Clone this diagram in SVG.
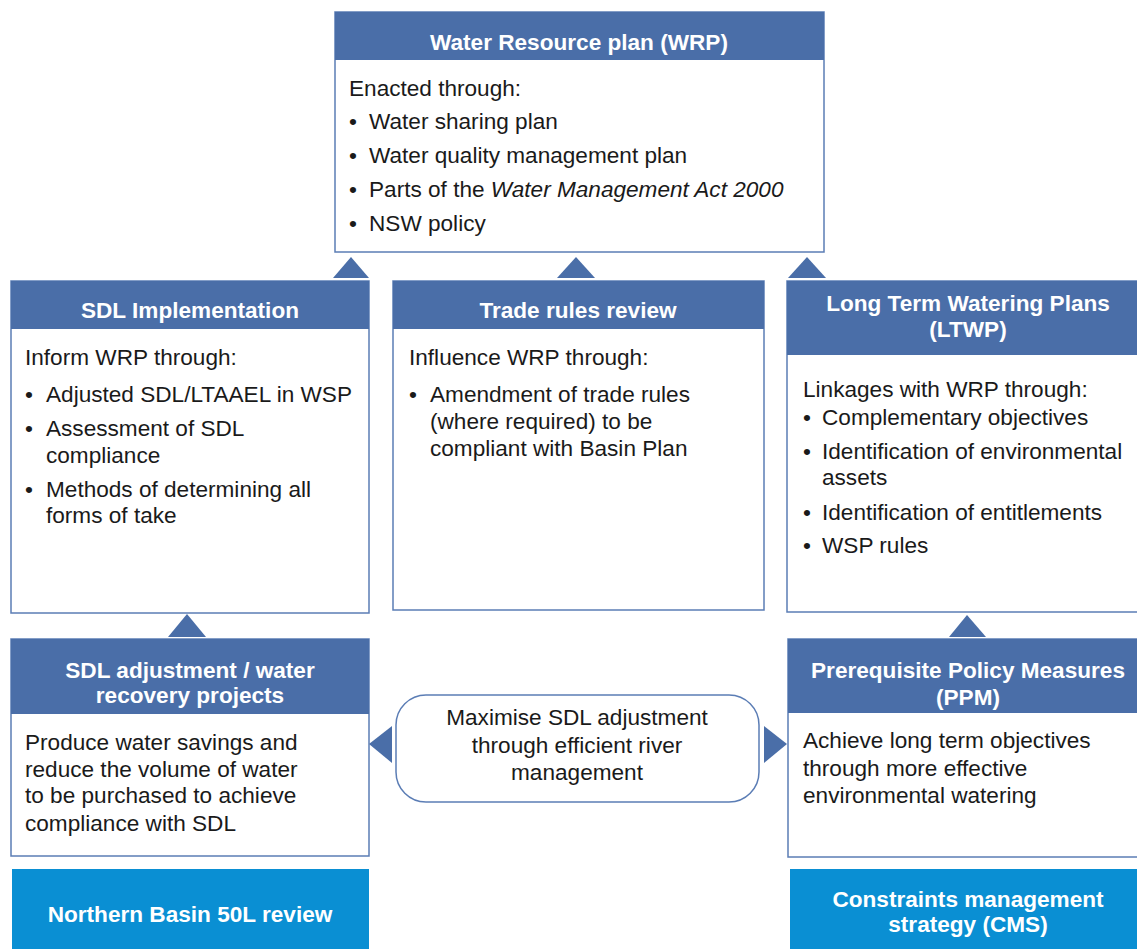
<svg xmlns="http://www.w3.org/2000/svg" width="1137" height="949" viewBox="0 0 1137 949">
<style>
.box{fill:#fff;stroke:#5b7db5;stroke-width:1.5}
.hdr{fill:#4a6ea8}
.cyan{fill:#0a8fd3}
.tri{fill:#4a6ea8}
.ht{font-family:"Liberation Sans",Arial,sans-serif;font-size:22.6px;font-weight:bold;fill:#fff;text-anchor:middle}
.bt{font-family:"Liberation Sans",Arial,sans-serif;font-size:22.6px;fill:#1a1a1a}
.ct{font-family:"Liberation Sans",Arial,sans-serif;font-size:22.6px;fill:#1a1a1a;text-anchor:middle}
</style>
<rect width="1137" height="949" fill="#fff"/>
<g id="wrp">
<rect class="box" x="335" y="12" width="489" height="240"/>
<rect class="hdr" x="335" y="12" width="489" height="48"/>
<text class="ht" x="579" y="50">Water Resource plan (WRP)</text>
<text class="bt" x="349" y="96">Enacted through:</text>
<text class="bt" x="349" y="129">•<tspan x="369">Water sharing plan</tspan></text>
<text class="bt" x="349" y="163">•<tspan x="369">Water quality management plan</tspan></text>
<text class="bt" x="349" y="197">•<tspan x="369">Parts of the </tspan><tspan font-style="italic">Water Management Act 2000</tspan></text>
<text class="bt" x="349" y="231">•<tspan x="369">NSW policy</tspan></text>
</g>
<g id="sdl-impl">
<rect class="box" x="11" y="281" width="358" height="332"/>
<rect class="hdr" x="11" y="281" width="358" height="48"/>
<text class="ht" x="190" y="318">SDL Implementation</text>
<text class="bt" x="25" y="365">Inform WRP through:</text>
<text class="bt" x="25" y="402">•<tspan x="46">Adjusted SDL/LTAAEL in WSP</tspan></text>
<text class="bt" x="25" y="436">•<tspan x="46">Assessment of SDL</tspan></text>
<text class="bt" x="46" y="463">compliance</text>
<text class="bt" x="25" y="497">•<tspan x="46">Methods of determining all</tspan></text>
<text class="bt" x="46" y="523">forms of take</text>
</g>
<g id="trade">
<rect class="box" x="393" y="281" width="371" height="329"/>
<rect class="hdr" x="393" y="281" width="371" height="48"/>
<text class="ht" x="578" y="318">Trade rules review</text>
<text class="bt" x="409" y="365">Influence WRP through:</text>
<text class="bt" x="409" y="402">•<tspan x="430">Amendment of trade rules</tspan></text>
<text class="bt" x="430" y="429">(where required) to be</text>
<text class="bt" x="430" y="456">compliant with Basin Plan</text>
</g>
<g id="ltwp">
<rect class="box" x="787" y="281" width="362" height="331"/>
<rect class="hdr" x="787" y="281" width="362" height="74"/>
<text class="ht" x="968" y="311">Long Term Watering Plans</text>
<text class="ht" x="968" y="337">(LTWP)</text>
<text class="bt" x="803" y="397">Linkages with WRP through:</text>
<text class="bt" x="803" y="425">•<tspan x="822">Complementary objectives</tspan></text>
<text class="bt" x="803" y="459">•<tspan x="822">Identification of environmental</tspan></text>
<text class="bt" x="822" y="485">assets</text>
<text class="bt" x="803" y="520">•<tspan x="822">Identification of entitlements</tspan></text>
<text class="bt" x="803" y="553">•<tspan x="822">WSP rules</tspan></text>
</g>
<g id="sdl-adj">
<rect class="box" x="11" y="639" width="358" height="217"/>
<rect class="hdr" x="11" y="639" width="358" height="75"/>
<text class="ht" x="190" y="678">SDL adjustment / water</text>
<text class="ht" x="190" y="703">recovery projects</text>
<text class="bt" x="25" y="750">Produce water savings and</text>
<text class="bt" x="25" y="777">reduce the volume of water</text>
<text class="bt" x="25" y="803">to be purchased to achieve</text>
<text class="bt" x="25" y="831">compliance with SDL</text>
</g>
<g id="ppm">
<rect class="box" x="788" y="639" width="362" height="218"/>
<rect class="hdr" x="788" y="639" width="362" height="74"/>
<text class="ht" x="968" y="678">Prerequisite Policy Measures</text>
<text class="ht" x="968" y="705">(PPM)</text>
<text class="bt" x="803" y="748">Achieve long term objectives</text>
<text class="bt" x="803" y="776">through more effective</text>
<text class="bt" x="803" y="803">environmental watering</text>
</g>
<g id="maximise">
<rect class="box" x="396" y="695" width="363" height="107" rx="30" ry="30"/>
<text class="ct" x="577" y="725">Maximise SDL adjustment</text>
<text class="ct" x="577" y="753">through efficient river</text>
<text class="ct" x="577" y="780">management</text>
</g>
<g id="northern">
<rect class="cyan" x="12" y="869" width="357" height="80"/>
<text class="ht" x="190" y="922">Northern Basin 50L review</text>
</g>
<g id="cms">
<rect class="cyan" x="790" y="869" width="360" height="80"/>
<text class="ht" x="968" y="907">Constraints management</text>
<text class="ht" x="968" y="932">strategy (CMS)</text>
</g>
<g id="connectors">
<polygon class="tri" points="333,278 351,257 369,278"/>
<polygon class="tri" points="557,278 576,257 595,278"/>
<polygon class="tri" points="788,278 807,257 826,278"/>
<polygon class="tri" points="168,637 187,614 206,637"/>
<polygon class="tri" points="949,637 967,615 986,637"/>
<polygon class="tri" points="392,726 369,744 392,763"/>
<polygon class="tri" points="764,726 787,744 764,763"/>
</g>
</svg>
